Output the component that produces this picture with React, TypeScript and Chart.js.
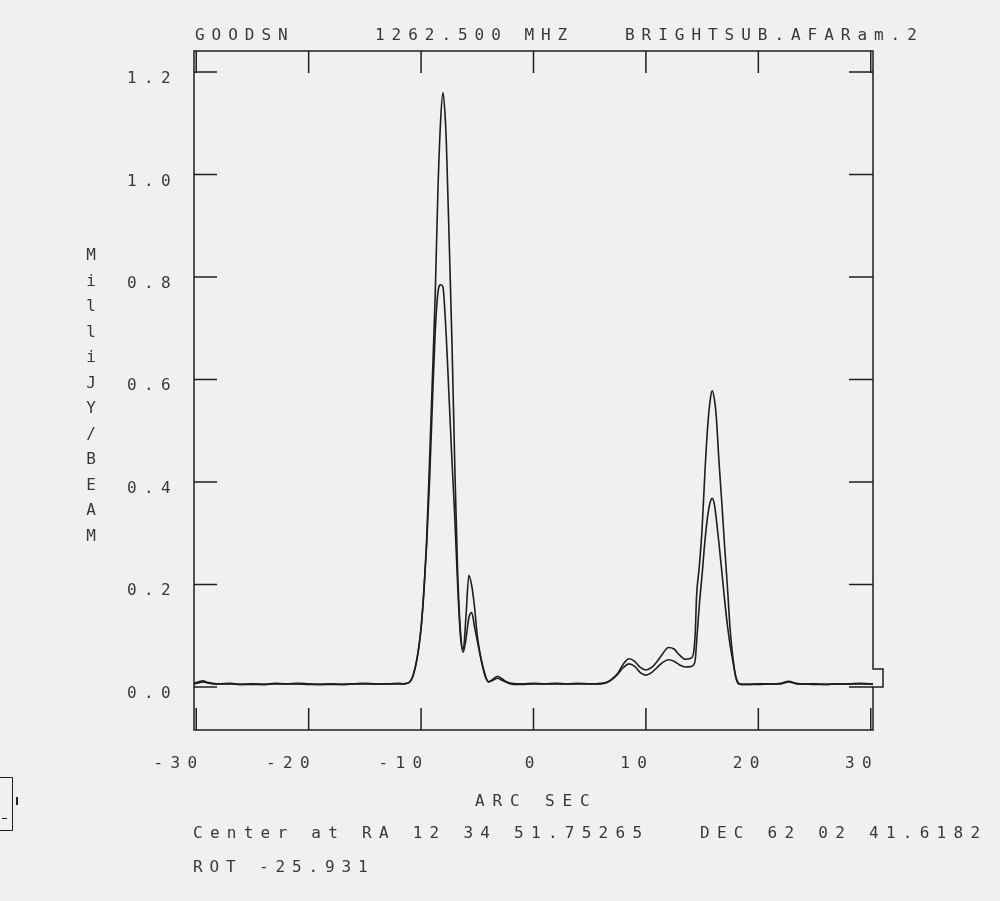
import React, { useEffect, useRef } from 'react';
import { Chart, registerables } from 'chart.js';

Chart.register(...registerables);

// ---- data ----
const X_VALUES = [
  -30.2, -29.8, -29.4, -29.0, -28.5, -28, -27, -26, -25, -24, -23, -22, -21, -20, -19, -18, -17, -16, -15, -14, -13, -12,
  -11.5, -11.25, -11, -10.75, -10.5, -10.25, -10, -9.75, -9.5, -9.25, -9, -8.75, -8.5, -8.25, -8.05, -7.85, -7.75, -7.5,
  -7.25, -7, -6.75, -6.5, -6.25, -6, -5.75, -5.5, -5.25, -5, -4.75, -4.5, -4.25, -4, -3.6, -3.2, -2.8, -2.4, -2, -1.5,
  -1, 0, 1, 2, 3, 4, 5, 6, 6.5,
  7, 7.5, 8, 8.5, 9, 9.5, 10, 10.5, 11, 11.5, 12, 12.5, 13, 13.5, 14, 14.25, 14.4, 14.5, 14.75, 15, 15.25, 15.5, 15.75,
  15.9, 16.1, 16.25, 16.5, 16.75, 17, 17.25, 17.5, 17.75, 18, 18.25, 18.5, 19,
  20, 21, 22, 22.7, 23.4, 24, 25, 26, 27, 28, 29, 30, 30.2,
];

const SERIES_A = [
  0.007, 0.010, 0.012, 0.009, 0.007, 0.006, 0.007, 0.005, 0.006, 0.005, 0.007, 0.006, 0.007, 0.006, 0.005, 0.006, 0.005, 0.006, 0.007, 0.006, 0.006, 0.007,
  0.006, 0.007, 0.010, 0.020, 0.040, 0.070, 0.115, 0.190, 0.290, 0.440, 0.600, 0.760, 0.970, 1.110, 1.160, 1.110, 1.060, 0.870,
  0.670, 0.430, 0.225, 0.110, 0.072, 0.140, 0.218, 0.198, 0.157, 0.100, 0.065, 0.040, 0.020, 0.010, 0.015, 0.021, 0.016, 0.010, 0.007, 0.006,
  0.006, 0.007, 0.006, 0.007, 0.006, 0.007, 0.006, 0.007, 0.009,
  0.016, 0.027, 0.045, 0.055, 0.050, 0.038, 0.033, 0.038, 0.050, 0.065, 0.077, 0.074, 0.062, 0.054, 0.056, 0.068, 0.110, 0.175, 0.235, 0.310, 0.420, 0.510, 0.565,
  0.578, 0.560, 0.530, 0.440, 0.360, 0.275, 0.195, 0.110, 0.055, 0.020, 0.007, 0.005, 0.005,
  0.006, 0.006, 0.007, 0.011, 0.007, 0.006, 0.006, 0.005, 0.006, 0.006, 0.007, 0.006, 0.006,
];

const SERIES_B = [
  0.006, 0.008, 0.010, 0.008, 0.006, 0.006, 0.006, 0.005, 0.005, 0.005, 0.006, 0.006, 0.006, 0.005, 0.005, 0.005, 0.005, 0.006, 0.006, 0.006, 0.006, 0.006,
  0.006, 0.007, 0.010, 0.020, 0.040, 0.070, 0.115, 0.185, 0.280, 0.400, 0.550, 0.690, 0.770, 0.785, 0.780, 0.720, 0.680, 0.560,
  0.440, 0.330, 0.200, 0.100, 0.068, 0.095, 0.135, 0.145, 0.118, 0.090, 0.062, 0.037, 0.018, 0.010, 0.013, 0.017, 0.013, 0.009, 0.006, 0.005,
  0.005, 0.006, 0.006, 0.006, 0.006, 0.006, 0.006, 0.006, 0.008,
  0.015, 0.025, 0.038, 0.045, 0.040, 0.028, 0.023, 0.028, 0.038, 0.048, 0.053, 0.050, 0.043, 0.039, 0.040, 0.043, 0.055, 0.085, 0.160, 0.220, 0.285, 0.335, 0.363,
  0.368, 0.355, 0.330, 0.280, 0.225, 0.170, 0.120, 0.080, 0.048, 0.018, 0.006, 0.005, 0.005,
  0.005, 0.006, 0.006, 0.010, 0.006, 0.006, 0.005, 0.005, 0.006, 0.006, 0.006, 0.006, 0.006,
];

const X_TICKS = [-30, -20, -10, 0, 10, 20, 30];
const X_TICK_LABELS = ['-30', '-20', '-10', '0', '10', '20', '30'];
const Y_TICKS = [0, 0.2, 0.4, 0.6, 0.8, 1.0, 1.2];
const Y_TICK_LABELS = ['0.0', '0.2', '0.4', '0.6', '0.8', '1.0', '1.2'];
const TITLE_PARTS = ['GOODSN', '1262.500 MHZ', 'BRIGHTSUB.AFARam.2'];
const Y_AXIS_TITLE = 'MilliJY/BEAM';
const X_AXIS_TITLE = 'ARC SEC';
const CENTER_LINE = 'Center at RA 12 34 51.75265   DEC 62 02 41.6182';
const ROT_LINE = 'ROT -25.931';

// ---- styling ----
const BG = '#f0f0f0';
const INK = '#1e1e1e';
const TEXT = '#383838';
const FONT = '16px "DejaVu Sans Mono"';

function drawMono(ctx: CanvasRenderingContext2D, text: string, x: number, y: number, adv: number) {
  for (let i = 0; i < text.length; i++) {
    ctx.fillText(text[i], x + i * adv, y);
  }
}

const framePlugin = {
  id: 'aipsFrame',
  afterDraw(chart: any) {
    const ctx: CanvasRenderingContext2D = chart.ctx;
    const { left, right, top, bottom } = chart.chartArea;
    const xs = chart.scales.x;
    const ys = chart.scales.y;
    ctx.save();
    ctx.strokeStyle = INK;
    ctx.lineWidth = 1.5;
    const zeroY = ys.getPixelForValue(0);

    // frame
    ctx.beginPath();
    ctx.moveTo(left, top);
    ctx.lineTo(right, top);
    ctx.lineTo(right, zeroY - 18);
    ctx.lineTo(right + 10, zeroY - 18);
    ctx.lineTo(right + 10, zeroY);
    ctx.lineTo(right, zeroY);
    ctx.lineTo(right, bottom);
    ctx.lineTo(left, bottom);
    ctx.closePath();
    ctx.stroke();

    // x ticks (top & bottom, inward)
    ctx.beginPath();
    X_TICKS.forEach((v) => {
      const px = xs.getPixelForValue(v);
      ctx.moveTo(px, top);
      ctx.lineTo(px, top + 22);
      ctx.moveTo(px, bottom);
      ctx.lineTo(px, bottom - 22);
    });
    // y ticks (left & right, inward)
    Y_TICKS.forEach((v) => {
      const py = ys.getPixelForValue(v);
      ctx.moveTo(left, py);
      ctx.lineTo(left + 23, py);
      ctx.moveTo(right, py);
      ctx.lineTo(right - 24, py);
    });
    ctx.stroke();

    // small artifact box at the left edge
    ctx.lineWidth = 1;
    ctx.beginPath();
    ctx.moveTo(0, 777.5);
    ctx.lineTo(12.5, 777.5);
    ctx.lineTo(12.5, 830.5);
    ctx.lineTo(0, 830.5);
    ctx.moveTo(2, 818.5);
    ctx.lineTo(7, 818.5);
    ctx.stroke();
    ctx.lineWidth = 2;
    ctx.beginPath();
    ctx.moveTo(17, 797);
    ctx.lineTo(17, 805);
    ctx.stroke();

    // texts
    ctx.fillStyle = TEXT;
    ctx.font = FONT;
    ctx.textBaseline = 'alphabetic';
    ctx.textAlign = 'left';
    const glyphW = ctx.measureText('0').width;

    drawMono(ctx, TITLE_PARTS[0], 195, 40, 16.6);
    drawMono(ctx, TITLE_PARTS[1], 375, 40, 16.6);
    drawMono(ctx, TITLE_PARTS[2], 625, 40, 16.6);

    Y_TICKS.forEach((v, i) => {
      const py = ys.getPixelForValue(v);
      drawMono(ctx, Y_TICK_LABELS[i], 127, py + 11, 17);
    });

    X_TICKS.forEach((v, i) => {
      const px = xs.getPixelForValue(v);
      const t = X_TICK_LABELS[i];
      const adv = 17;
      const start = px + 1 - ((t.length - 1) * adv + glyphW);
      drawMono(ctx, t, start, 768, adv);
    });

    ctx.textAlign = 'center';
    for (let i = 0; i < Y_AXIS_TITLE.length; i++) {
      ctx.fillText(Y_AXIS_TITLE[i], 91, 260 + i * 25.5);
    }
    ctx.textAlign = 'left';

    drawMono(ctx, X_AXIS_TITLE, 475, 806, 17.5);
    drawMono(ctx, CENTER_LINE, 193, 838, 16.9);
    drawMono(ctx, ROT_LINE, 193, 872, 16.5);

    ctx.restore();
  },
};

export default function App() {
  const canvasRef = useRef<HTMLCanvasElement | null>(null);

  useEffect(() => {
    document.body.style.margin = '0';
    document.body.style.background = BG;
    const canvas = canvasRef.current;
    if (!canvas) return;
    const ptsA = X_VALUES.map((x, i) => ({ x, y: SERIES_A[i] }));
    const ptsB = X_VALUES.map((x, i) => ({ x, y: SERIES_B[i] }));
    const chart = new Chart(canvas, {
      type: 'line',
      data: {
        datasets: [
          {
            data: ptsA,
            borderColor: INK,
            borderWidth: 1.6,
            pointRadius: 0,
            cubicInterpolationMode: 'monotone',
            fill: false,
          },
          {
            data: ptsB,
            borderColor: INK,
            borderWidth: 1.6,
            pointRadius: 0,
            cubicInterpolationMode: 'monotone',
            fill: false,
          },
        ],
      },
      options: {
        animation: false,
        responsive: false,
        maintainAspectRatio: false,
        layout: { padding: { left: 194, right: 127, top: 51, bottom: 171 } },
        scales: {
          x: { type: 'linear', min: -30.2, max: 30.2, display: false },
          y: { type: 'linear', min: -0.084, max: 1.241, display: false },
        },
        plugins: { legend: { display: false }, tooltip: { enabled: false } },
        events: [],
      },
      plugins: [framePlugin],
    });
    return () => chart.destroy();
  }, []);

  return (
    <div style={{ width: 1000, height: 901, background: BG }}>
      <canvas ref={canvasRef} width={1000} height={901} style={{ display: 'block' }} />
    </div>
  );
}
